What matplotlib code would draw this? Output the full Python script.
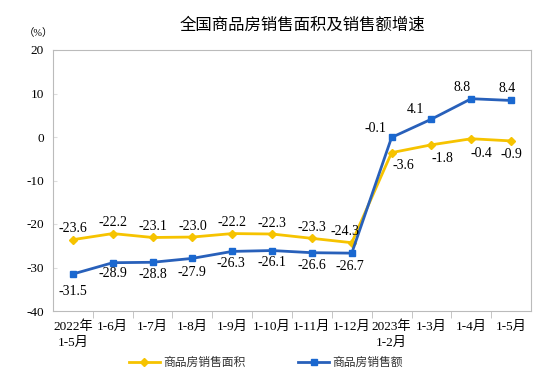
import matplotlib
matplotlib.use("Agg")
import matplotlib.pyplot as plt

plt.rcParams['font.family'] = ['Liberation Serif', 'Noto Sans CJK SC']

months = ['2022年\n1-5月', '1-6月', '1-7月', '1-8月', '1-9月', '1-10月', '1-11月',
          '1-12月', '2023年\n1-2月', '1-3月', '1-4月', '1-5月']
area = [-23.6, -22.2, -23.1, -23.0, -22.2, -22.3, -23.3, -24.3, -3.6, -1.8, -0.4, -0.9]
sales = [-31.5, -28.9, -28.8, -27.9, -26.3, -26.1, -26.6, -26.7, -0.1, 4.1, 8.8, 8.4]
yticks = [20, 10, 0, -10, -20, -30, -40]

yellow = '#F6C300'
blue = '#2860BA'

# label offsets in pixels (dx, dy), y up
area_off = [(0, 11), (0, 11), (0, 11), (0, 11), (0, 11), (0, 11), (0, 11), (-7, 11),
            (12, -13), (11, -14), (10, -15), (0, -14)]
sales_off = [(0, -17), (0, -11), (0, -12), (0, -14), (-1, -12), (0, -12), (0, -13), (-2, -13),
             (-16, 9), (-16, 10), (-9, 11), (-4, 12)]

fig = plt.figure(figsize=(5.54, 3.84), dpi=100)
ax = fig.add_axes([53/554, 1 - 311/384, 478/554, 261/384])

x = list(range(len(months)))
ax.plot(x, area, color=yellow, lw=2, marker='D', ms=4, label='商品房销售面积')
ax.plot(x, sales, color=blue, lw=2, marker='s', ms=4, mfc='#1A68D0', mec='#1A68D0',
        label='商品房销售额')

px = 72 / 100
for i in x:
    ax.annotate(f'{area[i]:.1f}', (i, area[i]),
                xytext=(area_off[i][0] * px, area_off[i][1] * px), textcoords='offset points',
                ha='center', va='center', fontsize=10)
    ax.annotate(f'{sales[i]:.1f}', (i, sales[i]),
                xytext=(sales_off[i][0] * px, sales_off[i][1] * px), textcoords='offset points',
                ha='center', va='center', fontsize=10)

ax.set_xlim(-0.5, len(months) - 0.5)
ax.set_ylim(-40, 20)
ax.set_yticks(yticks)
ax.set_yticklabels([str(v) for v in yticks], fontsize=9.5)
ax.set_xticks(x)
ax.set_xticklabels(months, fontsize=9.5, linespacing=1.4)
ax.set_xticks([i + 0.5 for i in x[:-1]], minor=True)
ax.tick_params(axis='x', which='major', length=0, pad=7)
ax.tick_params(axis='x', which='minor', length=5, color='#BBBBBB', direction='out')
ax.tick_params(axis='y', length=3, color='#DDDDDD', direction='in', pad=6.5)
for s in ax.spines.values():
    s.set_color('#BBBBBB')
    s.set_linewidth(0.8)

fig.text(302/554, 1 - 25/384, '全国商品房销售面积及销售额增速', ha='center', va='center',
         fontsize=11.8, family=['Noto Sans CJK SC'])
fig.text(38/554, 1 - 33/384, '（%）', ha='center', va='center', fontsize=7.5)

leg = fig.legend(loc='center', bbox_to_anchor=(266/554, 1 - 363/384), ncol=2, frameon=False,
                 fontsize=8.5, handlelength=2.6, handletextpad=0.3, columnspacing=4.5)
for t in leg.get_texts():
    t.set_color('#333333')

fig.savefig('out.png', dpi=100)
